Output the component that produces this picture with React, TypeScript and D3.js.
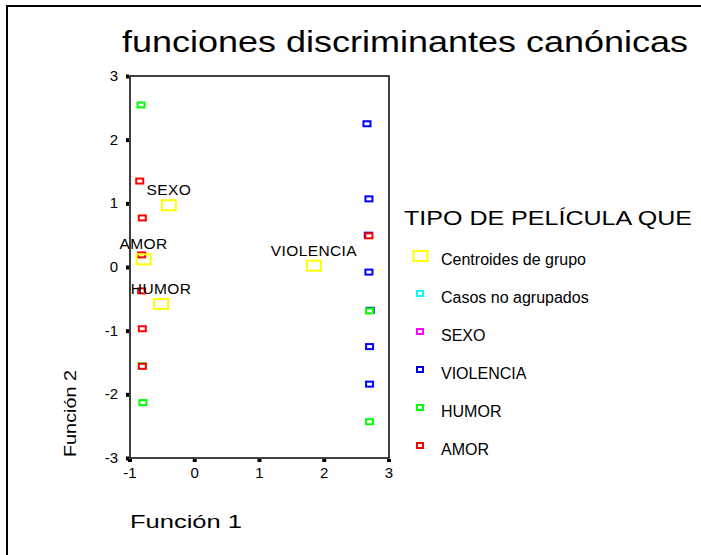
import React from 'react';
import * as d3 from 'd3';

// casos por grupo (función 1, función 2)
const violenciaF1 = [2.66, 2.69, 2.68, 2.69, 2.71, 2.7, 2.7];
const violenciaF2 = [2.25, 1.07, 0.5, -0.08, -0.68, -1.25, -1.84];
const humorF1 = [-0.83, -0.8, -0.81, 2.7, 2.7];
const humorF2 = [2.545, -2.13, -1.55, -0.69, -2.43];
const amorF1 = [-0.85, -0.81, -0.82, -0.82, -0.81, -0.81, 2.69];
const amorF2 = [1.35, 0.77, 0.19, -0.375, -0.97, -1.56, 0.49];

// centroides
const centroidNames = ['SEXO', 'AMOR', 'HUMOR', 'VIOLENCIA'];
const centroidF1 = [-0.4, -0.79, -0.52, 1.84];
const centroidF2 = [0.97, 0.12, -0.58, 0.02];

const xTicks = [-1, 0, 1, 2, 3];
const yTicks = [-3, -2, -1, 0, 1, 2, 3];

const legendLabels = ['Centroides de grupo', 'Casos no agrupados', 'SEXO', 'VIOLENCIA', 'HUMOR', 'AMOR'];
const legendColors = ['#ffff00', '#00ffff', '#ff00ff', '#0000ff', '#00ff00', '#ff0000'];

const font = 'Arial, "Liberation Sans", sans-serif';

const App = () => {
  const x = d3.scaleLinear().domain([-1, 3]).range([130, 389]);
  const y = d3.scaleLinear().domain([-3, 3]).range([458, 76]);

  const series = [
    { f1: violenciaF1, f2: violenciaF2, color: '#0000ff' },
    { f1: humorF1, f2: humorF2, color: '#00ff00' },
    { f1: amorF1, f2: amorF2, color: '#ff0000' },
  ];

  return (
    <svg width={701} height={555} style={{ position: 'absolute', left: 0, top: 0, background: '#fff' }}
      fontFamily={font}>
      <rect x={7} y={6} width={710} height={570} fill="none" stroke="#000" strokeWidth={2} />

      <text x={122} y={52} fontSize={29} textLength={566} lengthAdjust="spacingAndGlyphs">
        funciones discriminantes canónicas
      </text>

      {/* plot frame */}
      <rect x={x(-1)} y={y(3)} width={x(3) - x(-1)} height={y(-3) - y(3)}
        fill="none" stroke="#000" strokeWidth={1.5} />

      {xTicks.map(t => (
        <g key={'x' + t}>
          <rect x={x(t) - 2} y={y(-3) + 1} width={4} height={3} fill="#000" />
          <text x={x(t)} y={478} fontSize={15} textAnchor="middle">{t}</text>
        </g>
      ))}
      {yTicks.map(t => (
        <g key={'y' + t}>
          <rect x={x(-1) - 4} y={y(t) - 1.5} width={3} height={4} fill="#000" />
          <text x={118} y={y(t) + 5} fontSize={15} textAnchor="end">{t}</text>
        </g>
      ))}

      <text x={130} y={528} fontSize={18} textLength={112} lengthAdjust="spacingAndGlyphs">Función 1</text>
      <text transform="translate(76,457) rotate(-90)" fontSize={17} textLength={87}
        lengthAdjust="spacingAndGlyphs">Función 2</text>

      {/* cases */}
      {series.map((s, si) =>
        s.f1.map((v, i) => (
          <rect key={si + '-' + i} x={x(v) - 3.5} y={y(s.f2[i]) - 2.5} width={7} height={5}
            fill="#fff" stroke={s.color} strokeWidth={2} />
        ))
      )}

      {/* centroids */}
      {centroidNames.map((n, i) => (
        <g key={n}>
          <rect x={x(centroidF1[i]) - 7} y={y(centroidF2[i]) - 5} width={14} height={10}
            fill="none" stroke="#ffff00" strokeWidth={2} />
          <text x={x(centroidF1[i])} y={y(centroidF2[i]) - 10} fontSize={15.5} textAnchor="middle"
            letterSpacing={0.4}>{n}</text>
        </g>
      ))}

      {/* legend */}
      <text x={404} y={225} fontSize={21} textLength={288} lengthAdjust="spacingAndGlyphs">
        TIPO DE PELÍCULA QUE
      </text>
      {legendLabels.map((l, i) => {
        const base = 265 + i * 38;
        return (
          <g key={l}>
            {i === 0 ? (
              <rect x={413.5} y={base - 14} width={14} height={10} fill="none"
                stroke={legendColors[i]} strokeWidth={2} />
            ) : (
              <rect x={417} y={base - 12} width={6} height={5} fill="#fff"
                stroke={legendColors[i]} strokeWidth={2} />
            )}
            <text x={441} y={base} fontSize={16}>{l}</text>
          </g>
        );
      })}
    </svg>
  );
};

export default App;
